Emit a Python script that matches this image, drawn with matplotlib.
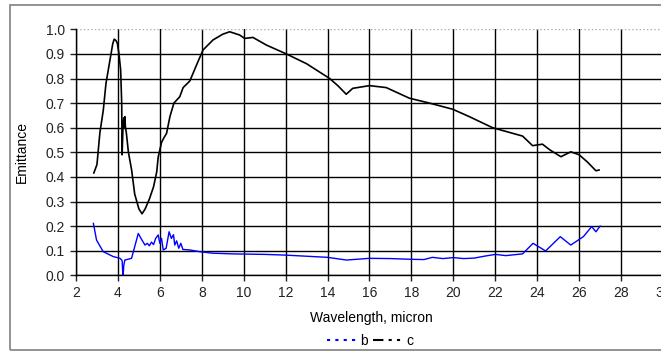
import matplotlib.pyplot as plt
from matplotlib.lines import Line2D
from matplotlib.patches import Rectangle

plt.rcParams['font.family'] = ['Liberation Sans', 'DejaVu Sans']
plt.rcParams['font.size'] = 10

# series c (black)
wl_c = [2.85, 3.0, 3.14, 3.3, 3.43, 3.62, 3.75, 3.82, 3.9, 3.97, 4.05, 4.13, 4.18, 4.2,
        4.24, 4.28, 4.3, 4.33, 4.36, 4.4, 4.5, 4.65, 4.8, 5.0, 5.15, 5.3, 5.5, 5.7, 5.85,
        5.92, 6.08, 6.2, 6.32, 6.48, 6.67, 6.95, 7.11, 7.43, 7.75, 8.06, 8.54, 9.0, 9.33,
        9.8, 10.05, 10.44, 11.08, 12.03, 13.0, 14.1, 14.5, 14.89, 15.2, 16.0, 16.8, 17.9,
        18.86, 19.97, 20.76, 21.87, 23.3, 23.78, 24.25, 24.6, 25.13, 25.6, 26.0, 26.4,
        26.8, 26.95]
em_c = [0.416, 0.45, 0.58, 0.67, 0.78, 0.875, 0.94, 0.96, 0.955, 0.944, 0.9, 0.834, 0.7, 0.49,
        0.6, 0.64, 0.6, 0.645, 0.6, 0.58, 0.5, 0.43, 0.33, 0.27, 0.25, 0.27, 0.31, 0.36, 0.42,
        0.48, 0.54, 0.56, 0.577, 0.645, 0.70, 0.726, 0.763, 0.79, 0.855, 0.916, 0.957, 0.98, 0.99,
        0.977, 0.963, 0.967, 0.936, 0.90, 0.86, 0.80, 0.77, 0.736, 0.76, 0.771, 0.763, 0.72,
        0.70, 0.675, 0.645, 0.60, 0.566, 0.527, 0.533, 0.51, 0.482, 0.502, 0.49, 0.46,
        0.425, 0.428]

# series b (blue)
wl_b = [2.83, 2.98, 3.3, 3.78, 4.1, 4.2, 4.23, 4.25, 4.28, 4.33, 4.65, 4.97, 5.1, 5.29,
        5.4, 5.5, 5.6, 5.7, 5.8, 5.92, 6.0, 6.08, 6.16, 6.3, 6.44, 6.55, 6.65, 6.71, 6.8,
        6.9, 7.0, 7.1, 7.43, 7.9, 8.5, 9.5, 11.0, 12.0, 14.0, 14.9, 16.0, 17.0, 18.0,
        18.6, 19.0, 19.5, 20.0, 20.5, 21.0, 21.5, 22.0, 22.5, 23.3, 23.8, 24.4, 25.1,
        25.6, 26.2, 26.6, 26.8, 27.0]
em_b = [0.211, 0.143, 0.096, 0.076, 0.069, 0.06, 0.01, 0.0, 0.04, 0.062, 0.069, 0.17, 0.15, 0.123,
        0.13, 0.12, 0.135, 0.125, 0.15, 0.164, 0.13, 0.15, 0.103, 0.11, 0.177, 0.15, 0.165, 0.123,
        0.14, 0.11, 0.13, 0.105, 0.103, 0.096, 0.09, 0.087, 0.085, 0.082, 0.073, 0.062, 0.069,
        0.068, 0.065, 0.064, 0.073, 0.068, 0.072, 0.068, 0.07, 0.078, 0.085, 0.08, 0.087,
        0.13, 0.099, 0.157, 0.123, 0.157, 0.198, 0.177, 0.2]

fig = plt.figure(figsize=(6.61, 3.51), dpi=100)
fig.patches.append(Rectangle((10 / 661, 1 / 351), 1.0, 345 / 351, transform=fig.transFigure,
                             fill=False, edgecolor='#808080', linewidth=1.2))
ax = fig.add_axes([76 / 661, 1 - 275.3 / 351, 587 / 661, 246 / 351])

ax.plot(wl_c, em_c, color='black', linewidth=1.2)
ax.plot(wl_b, em_b, color='blue', linewidth=1.0)

ax.set_xlim(2, 30)
ax.set_ylim(0, 1.0)
ax.set_xticks(range(2, 31, 2))
ax.set_yticks([i / 10 for i in range(11)])
ax.set_yticklabels([f'{i / 10:.1f}' for i in range(11)])
ax.grid(True, color='black', linewidth=1.0)
ax.get_ygridlines()[-1].set_color('#aaaaaa')
ax.get_ygridlines()[-1].set_linestyle(':')
for s in ['top', 'right']:
    ax.spines[s].set_visible(False)
ax.spines['left'].set_linewidth(1.0)
ax.spines['bottom'].set_linewidth(1.0)
ax.tick_params(direction='out', length=4, width=1, pad=4, labelsize=10, colors='#222222')
ax.set_axisbelow(True)

ax.set_ylabel('Emittance')
ax.yaxis.set_label_coords(-47 / 587, 0.5)
ax.set_xlabel('Wavelength, micron')
ax.xaxis.set_label_coords(0.503, -36 / 246)

handles = [Line2D([], [], color='blue', linestyle=(0, (1.5, 2.5)), linewidth=1.5),
           Line2D([], [], color='black', linestyle=(0, (5, 2.5, 1.5, 2.5, 1.5, 2.5)), linewidth=1.5)]
fig.legend(handles, ['b', 'c'], loc='center', bbox_to_anchor=(370 / 661, 1 - 341 / 351), ncol=2,
           frameon=False, handlelength=2.2, handletextpad=0.2, columnspacing=0.4,
           borderpad=0, fontsize=10)

fig.savefig('out.png', dpi=100)
